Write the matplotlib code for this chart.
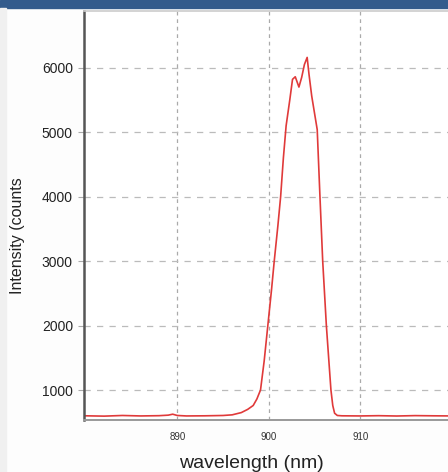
import matplotlib
matplotlib.use("Agg")
import matplotlib.pyplot as plt
from matplotlib.patches import Rectangle

plt.rcParams['font.family'] = ['Liberation Sans', 'DejaVu Sans']

# spectrum (wavelength in nm, intensity in counts)
wavelength = [880.0, 882.0, 884.0, 886.0, 888.0, 889.0, 889.5, 890.0, 891.0, 893.0,
              895.0, 896.0, 897.0, 897.7, 898.3, 898.7, 899.1, 899.5, 899.9, 900.3,
              900.6, 901.0, 901.3, 901.6, 901.9, 902.3, 902.6, 902.9, 903.1, 903.3,
              903.6, 903.9, 904.2, 904.4, 904.7, 905.0, 905.3, 905.6, 905.9, 906.3,
              906.8, 907.0, 907.2, 907.5, 908.0, 910.0, 912.0, 914.0, 916.0,
              918.0, 920.0]
intensity = [600, 595, 605, 598, 602, 610, 625, 605, 598, 600,
             605, 615, 650, 700, 760, 860, 1000, 1450, 2000, 2550,
             3000, 3550, 4000, 4600, 5100, 5500, 5820, 5860, 5780, 5700,
             5850, 6050, 6160, 5900, 5560, 5300, 5040, 4000, 3000, 2000,
             1000, 760, 640, 605, 600, 598, 602, 597, 603,
             600, 598]

x_ticks = [890, 900, 910]
y_ticks = [1000, 2000, 3000, 4000, 5000, 6000]

fig = plt.figure(figsize=(4.48, 4.72), dpi=100)
fig.patch.set_facecolor('#fdfdfd')
# header band and left strip
fig.add_artist(Rectangle((0, 1 - 8 / 472), 1, 8 / 472, transform=fig.transFigure,
                         color='#335b8c', zorder=0))
fig.add_artist(Rectangle((0, 0), 6 / 448, 1 - 8 / 472, transform=fig.transFigure,
                         color='#f0f0f0', zorder=0))

ax = fig.add_axes([84 / 448, 1 - 420 / 472, 1 - 84 / 448, 409 / 472])
ax.plot(wavelength, intensity, color='#e03a3a', linewidth=1.2)

ax.set_xlim(879.8, 919.6)
ax.set_ylim(535, 6880)
ax.set_xticks(x_ticks)
ax.set_yticks(y_ticks)
ax.tick_params(axis='x', labelsize=7, length=0, pad=9, colors='#333333')
ax.tick_params(axis='y', labelsize=10, length=4, width=0.8, color='#aaaaaa',
               pad=4, labelcolor='#222222')

ax.grid(True, axis='y', linestyle=(0, (5, 5)), color='#bbbbbb', linewidth=0.9)
ax.grid(True, axis='x', linestyle=(0, (3, 3)), color='#aaaaaa', linewidth=0.9)

ax.spines['left'].set_color('#555555')
ax.spines['left'].set_linewidth(1.8)
ax.spines['bottom'].set_color('#999999')
ax.spines['bottom'].set_linewidth(1.4)
ax.spines['top'].set_color('#cccccc')
ax.spines['top'].set_linewidth(1.2)
ax.spines['right'].set_visible(False)
ax.set_facecolor('white')

ax.set_xlabel('wavelength (nm)', fontsize=14, color='#222222')
ax.set_ylabel('Intensity (counts', fontsize=11.5, color='#222222')
# label positions in axes fraction (not centred on the axes in the reference)
ax.xaxis.set_label_coords((251 - 84) / 364, -(463 - 420) / 409)
ax.yaxis.set_label_coords(-(84 - 18) / 364, (420 - 236) / 409)
ax.xaxis.label.set_va('center')
ax.yaxis.label.set_va('center')

fig.savefig('out.png', dpi=100)
